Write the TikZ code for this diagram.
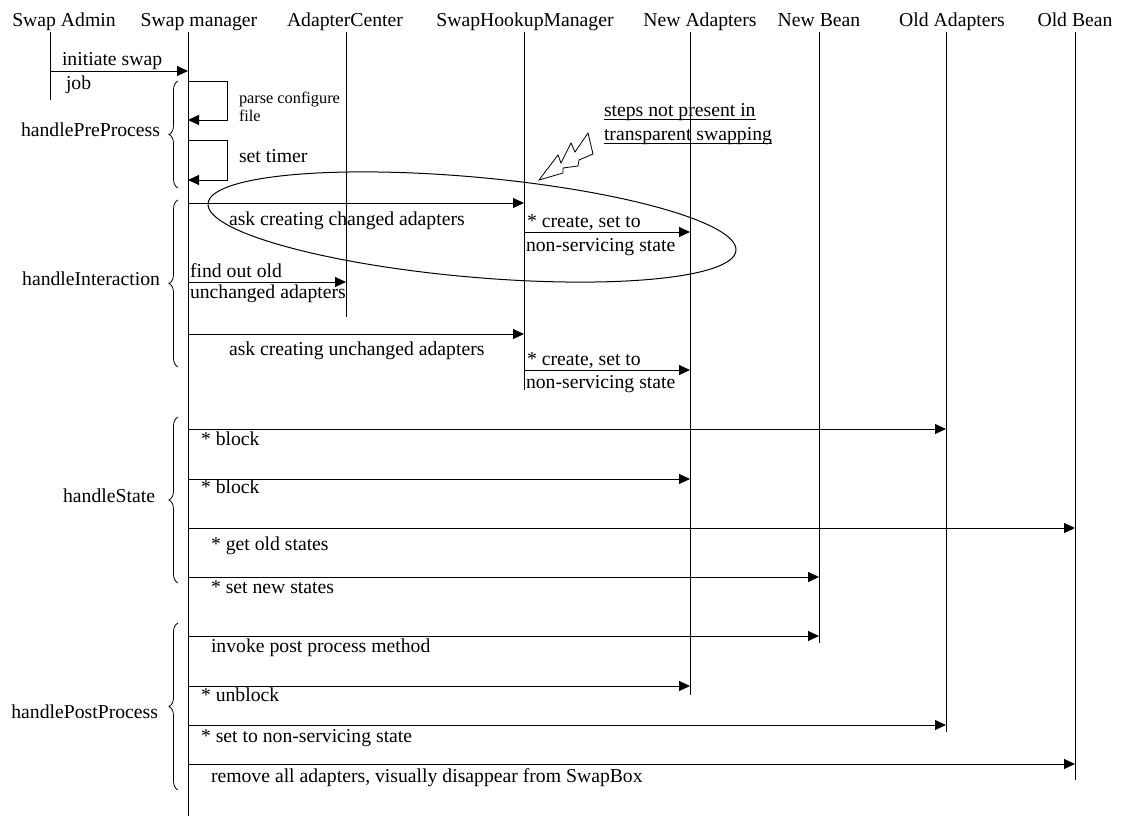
\documentclass[tikz,border=0pt]{standalone}
\usepackage{fontspec}
\setmainfont{Liberation Serif}
\usetikzlibrary{arrows.meta,decorations.pathreplacing,calc}

\begin{document}
\begin{tikzpicture}[x=1pt,y=-1pt,
  every node/.style={inner sep=0pt,outer sep=0pt},
  big/.style={font=\fontsize{19.7}{22}\selectfont},
  small/.style={font=\fontsize{16.3}{18}\selectfont},
  lifeline/.style={line width=1pt},
  msg/.style={line width=1pt,-{Triangle[length=11pt,width=10pt]}},
  grp/.style={decorate,decoration={brace,amplitude=9pt},line width=0.8pt},
  lbl/.style={big,anchor=base west},
  grplbl/.style={big,anchor=base east},
]
\useasboundingbox (0,0) rectangle (1123,816);

% lifeline x positions
\def\xAdm{50}\def\xMgr{188}\def\xCtr{346}\def\xHook{524}
\def\xNad{690}\def\xNbn{819}\def\xOad{946}\def\xObn{1075}

% participants
\node[big,anchor=base] (hAdm)  at (64,27)   {Swap Admin};
\node[big,anchor=base] (hMgr)  at (199,27)  {Swap manager};
\node[big,anchor=base] (hCtr)  at (345,27)  {AdapterCenter};
\node[big,anchor=base] (hHook) at (525,27)  {SwapHookupManager};
\node[big,anchor=base] (hNad)  at (700,27)  {New Adapters};
\node[big,anchor=base] (hNbn)  at (819,27)  {New Bean};
\node[big,anchor=base] (hOad)  at (952,27)  {Old Adapters};
\node[big,anchor=base] (hObn)  at (1075,27) {Old Bean};

% lifelines
\draw[lifeline] (\xAdm,32)  -- (\xAdm,100);
\draw[lifeline] (\xMgr,32)  -- (\xMgr,816);
\draw[lifeline] (\xCtr,32)  -- (\xCtr,317);
\draw[lifeline] (\xHook,32) -- (\xHook,390);
\draw[lifeline] (\xNad,32)  -- (\xNad,695);
\draw[lifeline] (\xNbn,32)  -- (\xNbn,643);
\draw[lifeline] (\xOad,32)  -- (\xOad,732);
\draw[lifeline] (\xObn,32)  -- (\xObn,780);

% start of the swap
\draw[msg] (\xAdm,71) -- (\xMgr,71);
\node[lbl] (mInit) at (62,66) {initiate swap};
\node[lbl] (mJob)  at (66,89) {job};

% handlePreProcess
\draw[msg] (\xMgr,81) -- (227,81) -- (227,120) -- (\xMgr,120);
\node[small,anchor=base west] (mParse1) at (239,103) {parse configure};
\node[small,anchor=base west] (mParse2) at (239,121) {file};
\draw[msg] (\xMgr,140) -- (227,140) -- (227,180) -- (\xMgr,180);
\node[lbl] (mTimer) at (239,162) {set timer};
\draw[grp] (178,188) -- (178,81);
\node[grplbl] (gPre) at (160,136) {handlePreProcess};

% handleInteraction
\draw[msg] (\xMgr,203) -- (\xHook,203);
\node[lbl] (mAskCh) at (229,225) {ask creating changed adapters};
\draw[msg] (\xHook,232) -- (\xNad,232);
\node[lbl] (mCr1a) at (527,227) {* create, set to};
\node[lbl] (mCr1b) at (526,251) {non-servicing state};
\draw[msg] (\xMgr,282) -- (\xCtr,282);
\node[lbl] (mFind1) at (190,277) {find out old};
\node[lbl] (mFind2) at (190,298) {unchanged adapters};
\draw[msg] (\xMgr,334) -- (\xHook,334);
\node[lbl] (mAskUn) at (229,355) {ask creating unchanged adapters};
\draw[msg] (\xHook,370) -- (\xNad,370);
\node[lbl] (mCr2a) at (527,365) {* create, set to};
\node[lbl] (mCr2b) at (526,388) {non-servicing state};
\draw[grp] (178,367) -- (178,200);
\node[grplbl] (gInt) at (160,285) {handleInteraction};

% steps that transparent swapping leaves out
\draw[line width=1pt,rotate around={-5.1:(472,227)}] (472,227) ellipse (265pt and 50pt);
\draw[line width=0.8pt,line join=miter]
  (539,180) -- (558,155) -- (561,163) -- (571,143) -- (575,152)
  -- (588,133) -- (593,154) -- (579,160) -- (578,166)
  -- (563,168) -- (563,173) -- cycle;
\node[lbl] (nNote1) at (604,116) {steps not present in};
\node[lbl] (nNote2) at (604,140) {transparent swapping};
\draw[line width=1.3pt] ($(nNote1.base west)+(0,3.5)$) -- ($(nNote1.base east)+(0,3.5)$);
\draw[line width=1.3pt] ($(nNote2.base west)+(0,3.5)$) -- ($(nNote2.base east)+(0,3.5)$);

% handleState
\draw[msg] (\xMgr,429) -- (\xOad,429);
\node[lbl] (mBlk1) at (201,445) {* block};
\draw[msg] (\xMgr,479) -- (\xNad,479);
\node[lbl] (mBlk2) at (201,493) {* block};
\draw[msg] (\xMgr,528) -- (\xObn,528);
\node[lbl] (mGet) at (211,550) {* get old states};
\draw[msg] (\xMgr,577) -- (\xNbn,577);
\node[lbl] (mSet) at (211,593) {* set new states};
\draw[grp] (178,583) -- (178,417);
\node[grplbl] (gState) at (155,502) {handleState};

% handlePostProcess
\draw[msg] (\xMgr,636) -- (\xNbn,636);
\node[lbl] (mPost) at (211,652) {invoke post process method};
\draw[msg] (\xMgr,686) -- (\xNad,686);
\node[lbl] (mUnblk) at (201,701) {* unblock};
\draw[msg] (\xMgr,725) -- (\xOad,725);
\node[lbl] (mNonSrv) at (201,742) {* set to non-servicing state};
\draw[msg] (\xMgr,764) -- (\xObn,764);
\node[lbl] (mRemove) at (211,782) {remove all adapters, visually disappear from SwapBox};
\draw[grp] (178,790) -- (178,623);
\node[grplbl] (gPost) at (158,718) {handlePostProcess};
\end{tikzpicture}
\end{document}
